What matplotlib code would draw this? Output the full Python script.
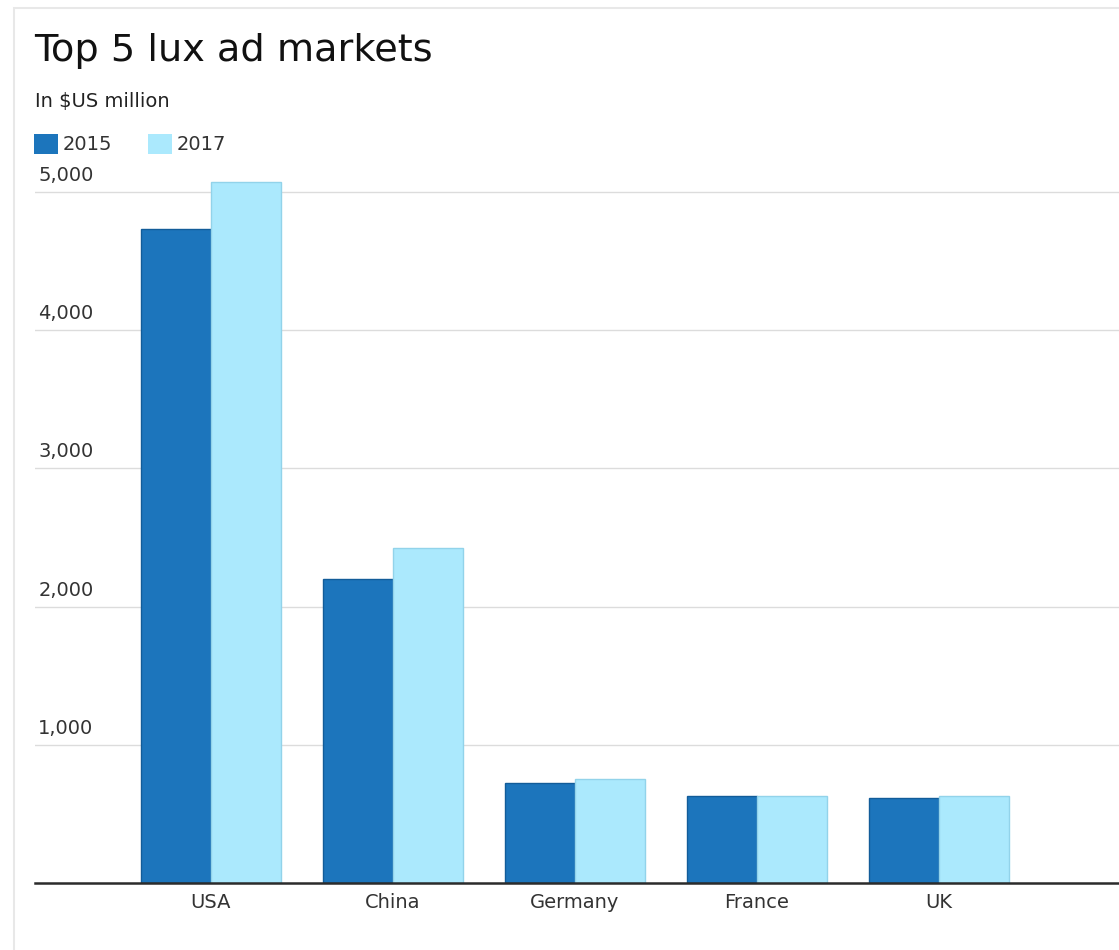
import numpy as np
import matplotlib.pyplot as plt
from matplotlib.patches import Rectangle
from matplotlib.transforms import blended_transform_factory

plt.rcParams['font.family'] = ['DejaVu Sans']

markets = ["USA", "China", "Germany", "France", "UK"]
vals_2015 = [4730, 2200, 725, 630, 617]
vals_2017 = [5070, 2425, 750, 627, 627]
years = ["2015", "2017"]
yticks = [1000, 2000, 3000, 4000, 5000]

c15 = "#1c75bc"
c17 = "#abe9fd"

W, H = 1119, 950
fig = plt.figure(figsize=(W / 100, H / 100), dpi=100)

# card outline
fig.patches.append(Rectangle((14 / W, -0.1), 1.2, (H - 8) / H + 0.1, transform=fig.transFigure,
                             facecolor="white", edgecolor="#e8e8e8", linewidth=1.5, zorder=-1))

ax_left, ax_bottom = 35 / W, (H - 883) / H
scale = (883 - 192) / 5000  # px per unit
ytop = 5200
ax = fig.add_axes([ax_left, ax_bottom, 1 - ax_left, ytop * scale / H])

x = np.arange(len(markets))
w = 0.385
ax.bar(x - w / 2, vals_2015, w, color=c15, edgecolor="#125c99", linewidth=1, zorder=3)
ax.bar(x + w / 2, vals_2017, w, color=c17, edgecolor="#92d3ea", linewidth=1, zorder=3)

ax.set_xlim(-0.967, 4.989)
ax.set_ylim(0, ytop)

for s in ["top", "right", "left"]:
    ax.spines[s].set_visible(False)
ax.spines["bottom"].set_color("#2b2b2b")
ax.spines["bottom"].set_linewidth(1.8)
ax.spines["bottom"].set_zorder(4)

ax.set_yticks(yticks)
ax.set_yticklabels([])
ax.tick_params(axis="y", length=0)
ax.grid(axis="y", color="#dcdcdc", linewidth=1, zorder=0)

trans = blended_transform_factory(ax.transAxes, ax.transData)
for v in yticks:
    ax.text(0.003, v + 11 / scale, f"{v:,}", transform=trans, fontsize=14,
            color="#333333", ha="left", va="baseline")

ax.set_xticks(x)
ax.set_xticklabels(markets, fontsize=14, color="#333333")
ax.tick_params(axis="x", length=0, pad=7)

fig.text(34 / W, 1 - 61 / H, "Top 5 lux ad markets", fontsize=27.5, color="#111111",
         ha="left", va="baseline")
fig.text(35 / W, 1 - 107 / H, "In $US million", fontsize=14, color="#222222",
         ha="left", va="baseline")

# legend
for (xs, col, lab) in [(34, c15, years[0]), (148, c17, years[1])]:
    fig.patches.append(Rectangle((xs / W, 1 - 154 / H), 24 / W, 20 / H,
                                 transform=fig.transFigure, facecolor=col, edgecolor="none"))
    fig.text((xs + 29) / W, 1 - 150 / H, lab, fontsize=14, color="#333333",
             ha="left", va="baseline")

fig.savefig("out.png", dpi=100)
